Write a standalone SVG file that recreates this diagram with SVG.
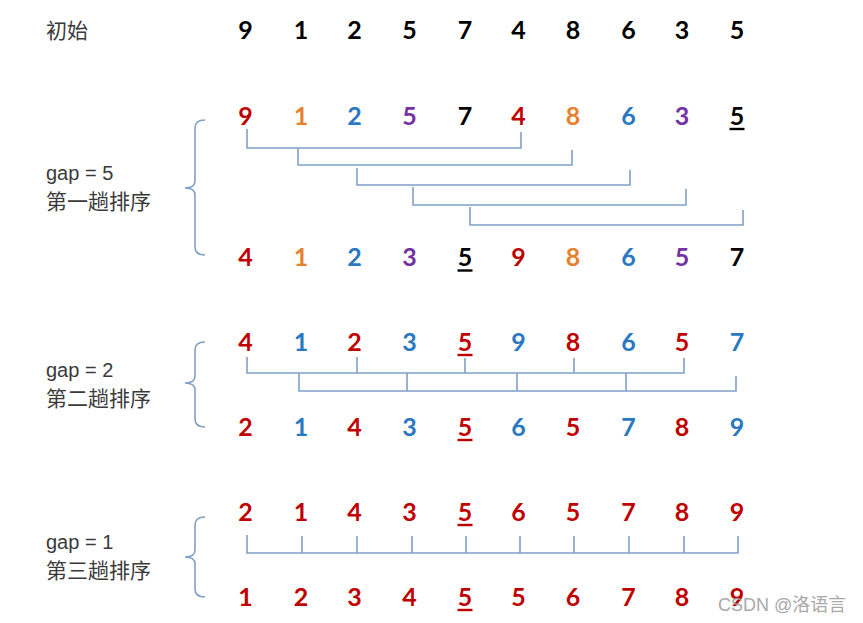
<svg xmlns="http://www.w3.org/2000/svg" width="863" height="623" viewBox="0 0 863 623">
<style>
.d{font-family:Lato,"Liberation Sans",sans-serif;font-weight:bold;font-size:25px;text-anchor:middle}
.k{fill:#000}.r{fill:#c00000}.o{fill:#e6822e}.b{fill:#2a78c2}.p{fill:#7431a3}
.lbl{font-family:"Liberation Sans","Noto Sans CJK SC",sans-serif;font-size:20px;fill:#3a3a3a}
.cjk{font-family:"Noto Sans CJK SC",sans-serif;font-size:21px;fill:#3a3a3a}
.c{fill:none;stroke:#819fc7;stroke-width:1.6}
.u{stroke-width:2.4}
.wm{font-family:"Liberation Sans","Noto Sans CJK SC",sans-serif;font-size:18px;fill:#a0a0a0;opacity:0.9}
</style>
<rect width="863" height="623" fill="#fff"/>

<g id="labels">
<text class="cjk" x="46" y="38">初始</text>
<text class="lbl" x="46" y="180">gap = 5</text>
<text class="cjk" x="46" y="209">第一趟排序</text>
<text class="lbl" x="46" y="377">gap = 2</text>
<text class="cjk" x="46" y="406">第二趟排序</text>
<text class="lbl" x="46" y="549">gap = 1</text>
<text class="cjk" x="46" y="578">第三趟排序</text>
</g>

<g id="row0" class="d k">
<text x="245.5" y="39">9</text><text x="301" y="39">1</text><text x="354.5" y="39">2</text><text x="409.5" y="39">5</text><text x="465" y="39">7</text><text x="518.5" y="39">4</text><text x="573" y="39">8</text><text x="628.5" y="39">6</text><text x="682" y="39">3</text><text x="737" y="39">5</text>
</g>

<g id="row1" class="d">
<text class="r" x="245.5" y="125">9</text><text class="o" x="301" y="125">1</text><text class="b" x="354.5" y="125">2</text><text class="p" x="409.5" y="125">5</text><text class="k" x="465" y="125">7</text><text class="r" x="518.5" y="125">4</text><text class="o" x="573" y="125">8</text><text class="b" x="628.5" y="125">6</text><text class="p" x="682" y="125">3</text><text class="k" x="737" y="125">5</text>
<line class="u" x1="729.5" y1="129" x2="744.5" y2="129" stroke="#000"/>
</g>

<g id="row2" class="d">
<text class="r" x="245.5" y="266">4</text><text class="o" x="301" y="266">1</text><text class="b" x="354.5" y="266">2</text><text class="p" x="409.5" y="266">3</text><text class="k" x="465" y="266">5</text><text class="r" x="518.5" y="266">9</text><text class="o" x="573" y="266">8</text><text class="b" x="628.5" y="266">6</text><text class="p" x="682" y="266">5</text><text class="k" x="737" y="266">7</text>
<line class="u" x1="457.5" y1="270.5" x2="472.5" y2="270.5" stroke="#000"/>
</g>

<g id="row3" class="d">
<text class="r" x="245.5" y="351">4</text><text class="b" x="301" y="351">1</text><text class="r" x="354.5" y="351">2</text><text class="b" x="409.5" y="351">3</text><text class="r" x="465" y="351">5</text><text class="b" x="518.5" y="351">9</text><text class="r" x="573" y="351">8</text><text class="b" x="628.5" y="351">6</text><text class="r" x="682" y="351">5</text><text class="b" x="737" y="351">7</text>
<line class="u" x1="457.5" y1="355" x2="472.5" y2="355" stroke="#c00000"/>
</g>

<g id="row4" class="d">
<text class="r" x="245.5" y="436">2</text><text class="b" x="301" y="436">1</text><text class="r" x="354.5" y="436">4</text><text class="b" x="409.5" y="436">3</text><text class="r" x="465" y="436">5</text><text class="b" x="518.5" y="436">6</text><text class="r" x="573" y="436">5</text><text class="b" x="628.5" y="436">7</text><text class="r" x="682" y="436">8</text><text class="b" x="737" y="436">9</text>
<line class="u" x1="457.5" y1="440" x2="472.5" y2="440" stroke="#c00000"/>
</g>

<g id="row5" class="d r">
<text x="245.5" y="521">2</text><text x="301" y="521">1</text><text x="354.5" y="521">4</text><text x="409.5" y="521">3</text><text x="465" y="521">5</text><text x="518.5" y="521">6</text><text x="573" y="521">5</text><text x="628.5" y="521">7</text><text x="682" y="521">8</text><text x="737" y="521">9</text>
<line class="u" x1="457.5" y1="525" x2="472.5" y2="525" stroke="#c00000"/>
</g>

<g id="row6" class="d r">
<text x="245.5" y="606">1</text><text x="301" y="606">2</text><text x="354.5" y="606">3</text><text x="409.5" y="606">4</text><text x="465" y="606">5</text><text x="518.5" y="606">5</text><text x="573" y="606">6</text><text x="628.5" y="606">7</text><text x="682" y="606">8</text><text x="737" y="606">9</text>
<line class="u" x1="457.5" y1="610" x2="472.5" y2="610" stroke="#c00000"/>
</g>

<g id="braces" class="c">
<path d="M205,120 Q195,120 195,128 L195,181 Q195,188 185,188 Q195,188 195,195 L195,247 Q195,255 205,255"/>
<path d="M205,342 Q195,342 195,350 L195,376 Q195,383 185,383 Q195,383 195,390 L195,419 Q195,427 205,427"/>
<path d="M205,517 Q195,517 195,525 L195,550 Q195,557 185,557 Q195,557 195,564 L195,589 Q195,597 205,597"/>
</g>

<g id="connectors" class="c">
<path d="M247,129 V148 H521 V132"/>
<path d="M298,148 V165 H572 V150"/>
<path d="M357,168 V185 H630 V170"/>
<path d="M413,187 V205 H686 V189"/>
<path d="M470,207 V225 H743 V210"/>

<path d="M247,357 V373 H684 V358"/>
<path d="M357,357 V373 M465,358 V373 M574,358 V373"/>
<path d="M299,373 V391 H736 V376"/>
<path d="M407,373 V391 M517,373 V391 M626,373 V391"/>

<path d="M247,535 V553 H738 V536"/>
<path d="M302,536 V553 M357,536 V553 M412,536 V553 M466,536 V553 M520,536 V553 M574,536 V553 M629,536 V553 M684,536 V553"/>
</g>

<text class="wm" x="718" y="611">CSDN @洛语言</text>
</svg>
